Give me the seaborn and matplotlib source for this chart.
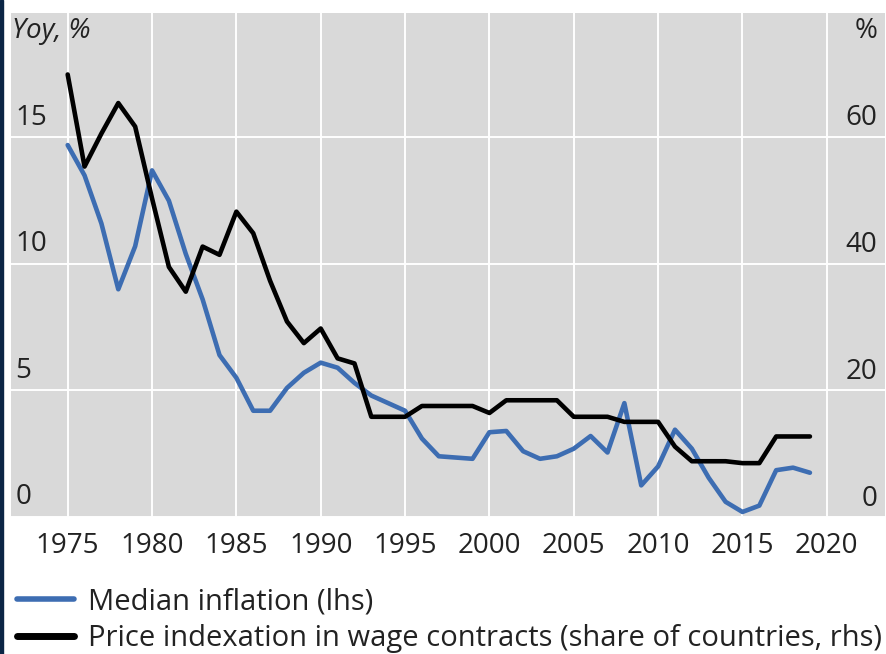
import numpy as np
import pandas as pd
import matplotlib
matplotlib.use("Agg")
import matplotlib.pyplot as plt
import matplotlib.transforms as mtransforms
from matplotlib.lines import Line2D
from matplotlib.patches import Rectangle
import seaborn as sns

# data
years = list(range(1975, 2020))
median_inflation = [14.7, 13.5, 11.6, 9.0, 10.7, 13.7, 12.5, 10.4, 8.6, 6.4,
                    5.5, 4.2, 4.2, 5.1, 5.7, 6.1, 5.9, 5.3, 4.8, 4.5,
                    4.2, 3.1, 2.4, 2.35, 2.3, 3.35, 3.4, 2.6, 2.3, 2.4,
                    2.7, 3.2, 2.55, 4.5, 1.25, 2.0, 3.45, 2.7, 1.55, 0.6,
                    0.2, 0.45, 1.85, 1.95, 1.75]
wage_indexation = [70.0, 55.5, 60.7, 65.5, 61.8, 50.5, 39.7, 35.8, 42.9, 41.6,
                   48.4, 45.0, 37.5, 31.1, 27.7, 30.0, 25.3, 24.5, 16.1, 16.1,
                   16.1, 17.8, 17.8, 17.8, 17.8, 16.7, 18.7, 18.7, 18.7, 18.7,
                   16.1, 16.1, 16.1, 15.3, 15.3, 15.3, 11.4, 9.1, 9.1, 9.1,
                   8.8, 8.8, 13.0, 13.0, 13.0]
left_ticks = [0, 5, 10, 15]
right_ticks = [0, 20, 40, 60]
x_ticks = list(range(1975, 2021, 5))
labels = ["Median inflation (lhs)",
          "Price indexation in wage contracts (share of countries, rhs)"]

df = pd.DataFrame({"year": years, "inflation": median_inflation,
                   "indexation": wage_indexation})

blue = "#3d6db2"
bg = "#d9d9d9"
font = "Open Sans"
fs = 20
fs_leg = 21

sns.set_theme(style="white")
plt.rcParams["font.family"] = [font, "DejaVu Sans"]
plt.rcParams["text.color"] = "#222222"

fig = plt.figure(figsize=(8.86, 6.54), dpi=100)
ax = fig.add_axes([11 / 886, 1 - 517 / 654, 874 / 886, 504 / 654])
ax.set_facecolor(bg)
for s in ax.spines.values():
    s.set_visible(False)

ax2 = ax.twinx()
sns.lineplot(data=df, x="year", y="inflation", ax=ax, color=blue, lw=3.3)
sns.lineplot(data=df, x="year", y="indexation", ax=ax2, color="black", lw=3.3)

ax.set_xlim(1971.64, 2023.45)
ax.set_ylim(0.08, 19.92)
ax2.set_ylim(0.32, 79.68)
ax.set_yticks(left_ticks)
ax.set_xticks(x_ticks)
ax.grid(True, color="white", lw=1.4)
ax.set_axisbelow(True)
ax.set_xlabel("")
ax.set_ylabel("")
ax2.set_ylabel("")
ax.set_yticklabels([])
ax2.set_yticks([])
for s in ax2.spines.values():
    s.set_visible(False)
ax.tick_params(axis="y", length=0)
ax.tick_params(axis="x", direction="in", length=16, width=1.3, color="black",
               pad=11, labelsize=fs, labelcolor="#222222")

# tick labels sitting above the gridlines, inside the plot
lift = mtransforms.ScaledTranslation(0, 4 / 72, fig.dpi_scale_trans)
trans_l = mtransforms.blended_transform_factory(ax.transAxes, ax.transData) + lift
trans_r = mtransforms.blended_transform_factory(ax2.transAxes, ax2.transData) + lift
for v in left_ticks:
    ax.text(0.005, v, str(v), transform=trans_l, ha="left", va="bottom",
            fontsize=fs)
for v in right_ticks:
    ax2.text(0.991, v, str(v), transform=trans_r, ha="right", va="bottom",
             fontsize=fs)

ax.text(0.001, 0.992, "Yoy, %", transform=ax.transAxes, ha="left", va="top",
        fontsize=fs, style="italic")
ax.text(0.991, 0.992, "%", transform=ax.transAxes, ha="right", va="top",
        fontsize=fs)

handles = [Line2D([], [], color=blue, lw=4), Line2D([], [], color="black", lw=5)]
fig.legend(handles, labels, loc="lower left", bbox_to_anchor=(0.006, -0.017),
           frameon=False, fontsize=fs_leg, handlelength=1.95, handletextpad=0.5,
           labelspacing=0.28, borderaxespad=0)

# dark frame edge on the left
fig.patches.append(Rectangle((0, 0), 3 / 886, 1, transform=fig.transFigure,
                             color="#0b2545", zorder=10))

fig.savefig("out.png", dpi=100)
